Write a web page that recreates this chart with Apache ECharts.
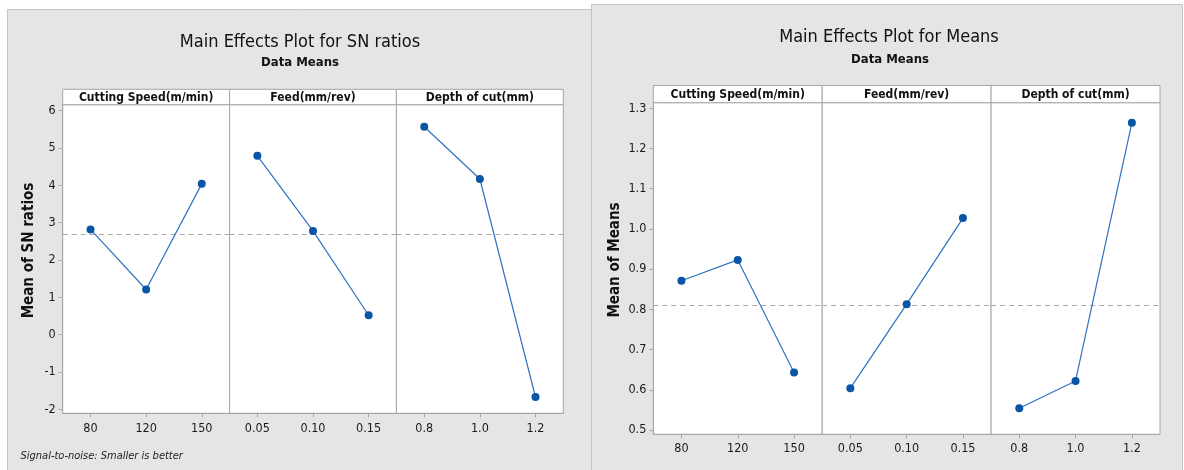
<!DOCTYPE html>
<html><head><meta charset="utf-8">
<script src="https://cdn.jsdelivr.net/npm/echarts@6/dist/echarts.min.js"></script>
<style>html,body{margin:0;padding:0;background:#fff}#c{width:1184px;height:470px}</style>
</head><body><div id="c"></div>
<script>
// ---------- data ----------
const factors = ['Cutting Speed(m/min)', 'Feed(mm/rev)', 'Depth of cut(mm)'];
const speedLevels = ['80', '120', '150'];
const feedLevels = ['0.05', '0.10', '0.15'];
const depthLevels = ['0.8', '1.0', '1.2'];
const snSpeed = [2.82, 1.21, 4.04];
const snFeed = [4.79, 2.78, 0.52];
const snDepth = [5.57, 4.17, -1.67];
const snOverallMean = 2.69;
const meanSpeed = [0.871, 0.923, 0.643];
const meanFeed = [0.604, 0.813, 1.027];
const meanDepth = [0.554, 0.622, 1.264];
const meansOverallMean = 0.813;
const snTicks = [-2, -1, 0, 1, 2, 3, 4, 5, 6];
const meansTicks = [0.5, 0.6, 0.7, 0.8, 0.9, 1.0, 1.1, 1.2, 1.3];

// ---------- layout ----------
const FONT = "'Liberation Sans Narrow','DejaVu Sans Condensed',Lato,sans-serif";
const levelSets = [speedLevels, feedLevels, depthLevels];
const charts = [
  { left: 62.7, right: 563.3, top: 104.7, bottom: 413.3, hdrTop: 89.3, min: -2.107, max: 6.161,
    ticks: snTicks, fmt: v => String(v), values: [snSpeed, snFeed, snDepth], mean: snOverallMean,
    labelMargin: 9 },
  { left: 653.3, right: 1160, top: 102.7, bottom: 434.3, hdrTop: 85.5, min: 0.4893, max: 1.3139,
    ticks: meansTicks, fmt: v => v.toFixed(1), values: [meanSpeed, meanFeed, meanDepth], mean: meansOverallMean,
    labelMargin: 8 }
];

const grid = [], xAxis = [], yAxis = [], series = [], graphic = [];

// backgrounds
graphic.push({ type: 'rect', z: -100, shape: { x: 7.5, y: 9.5, width: 584, height: 470 },
  style: { fill: '#e5e5e5', stroke: '#c4c4c4', lineWidth: 1 } });
graphic.push({ type: 'rect', z: -99, shape: { x: 591.5, y: 4.5, width: 591, height: 470 },
  style: { fill: '#e5e5e5', stroke: '#c4c4c4', lineWidth: 1 } });

charts.forEach((c, ci) => {
  const w = (c.right - c.left) / 3;
  for (let p = 0; p < 3; p++) {
    const gi = grid.length;
    grid.push({ left: c.left + p * w, top: c.top, width: w, height: c.bottom - c.top,
      show: true, backgroundColor: '#ffffff', borderColor: '#a6a6a6', borderWidth: 1, containLabel: false });
    xAxis.push({ type: 'category', gridIndex: gi, data: levelSets[p], boundaryGap: true,
      axisLine: { show: true, onZero: false, lineStyle: { color: '#a6a6a6', width: 1 } },
      axisTick: { show: true, alignWithLabel: true, length: 4, lineStyle: { color: '#a6a6a6' } },
      axisLabel: { color: '#1a1a1a', fontSize: 12.5, fontFamily: FONT, margin: c.labelMargin },
      splitLine: { show: false } });
    yAxis.push({ type: 'value', gridIndex: gi, min: c.min, max: c.max, show: p === 0,
      axisLine: { show: true, onZero: false, lineStyle: { color: '#a6a6a6', width: 1 } },
      axisTick: { show: true, length: 4, customValues: c.ticks, lineStyle: { color: '#a6a6a6' } },
      axisLabel: { customValues: c.ticks, formatter: c.fmt, color: '#1a1a1a', fontSize: 12.5, fontFamily: FONT, margin: 7 },
      splitLine: { show: false } });
    series.push({ type: 'line', xAxisIndex: gi, yAxisIndex: gi, data: c.values[p],
      symbol: 'circle', symbolSize: 8, itemStyle: { color: '#0a55a5' },
      lineStyle: { color: '#2f72c0', width: 1.2 }, emphasis: { disabled: true }, z: 5,
      markLine: { silent: true, symbol: 'none', label: { show: false },
        lineStyle: { color: '#a8a8a8', type: [5, 4], width: 1 },
        data: [{ yAxis: c.mean }] } });
    // header strip
    const hx = c.left + p * w;
    graphic.push({ type: 'rect', z: 10, shape: { x: hx, y: c.hdrTop, width: w, height: c.top - c.hdrTop },
      style: { fill: '#ffffff', stroke: '#a6a6a6', lineWidth: 1 } });
    graphic.push({ type: 'text', z: 11, x: hx + w / 2, y: (c.hdrTop + c.top) / 2 + 0.5,
      style: { text: factors[p], fill: '#111', font: "bold 12px " + FONT, textAlign: 'center', textVerticalAlign: 'middle' } });
  }
});

// titles and axis names
const texts = [
  { t: 'Main Effects Plot for SN ratios', x: 300, y: 42, f: '18px ' + FONT },
  { t: 'Data Means', x: 300, y: 63, f: 'bold 13px ' + FONT },
  { t: 'Main Effects Plot for Means', x: 889, y: 37, f: '18px ' + FONT },
  { t: 'Data Means', x: 890, y: 60, f: 'bold 13px ' + FONT }
];
texts.forEach(o => graphic.push({ type: 'text', z: 11, x: o.x, y: o.y,
  style: { text: o.t, fill: '#111', font: o.f, textAlign: 'center', textVerticalAlign: 'middle' } }));
graphic.push({ type: 'text', z: 11, x: 29.5, y: 250.5, rotation: Math.PI / 2,
  style: { text: 'Mean of SN ratios', fill: '#111', font: 'bold 15px ' + FONT, textAlign: 'center', textVerticalAlign: 'middle' } });
graphic.push({ type: 'text', z: 11, x: 615, y: 260, rotation: Math.PI / 2,
  style: { text: 'Mean of Means', fill: '#111', font: 'bold 15px ' + FONT, textAlign: 'center', textVerticalAlign: 'middle' } });
graphic.push({ type: 'text', z: 11, x: 20.5, y: 456.5,
  style: { text: 'Signal-to-noise: Smaller is better', fill: '#222', font: 'italic 11px ' + FONT, textAlign: 'left', textVerticalAlign: 'middle' } });

const chart = echarts.init(document.getElementById('c'), null, { renderer: 'canvas' });
chart.setOption({ animation: false, backgroundColor: '#ffffff', grid, xAxis, yAxis, series, graphic });
</script>
</body></html>
